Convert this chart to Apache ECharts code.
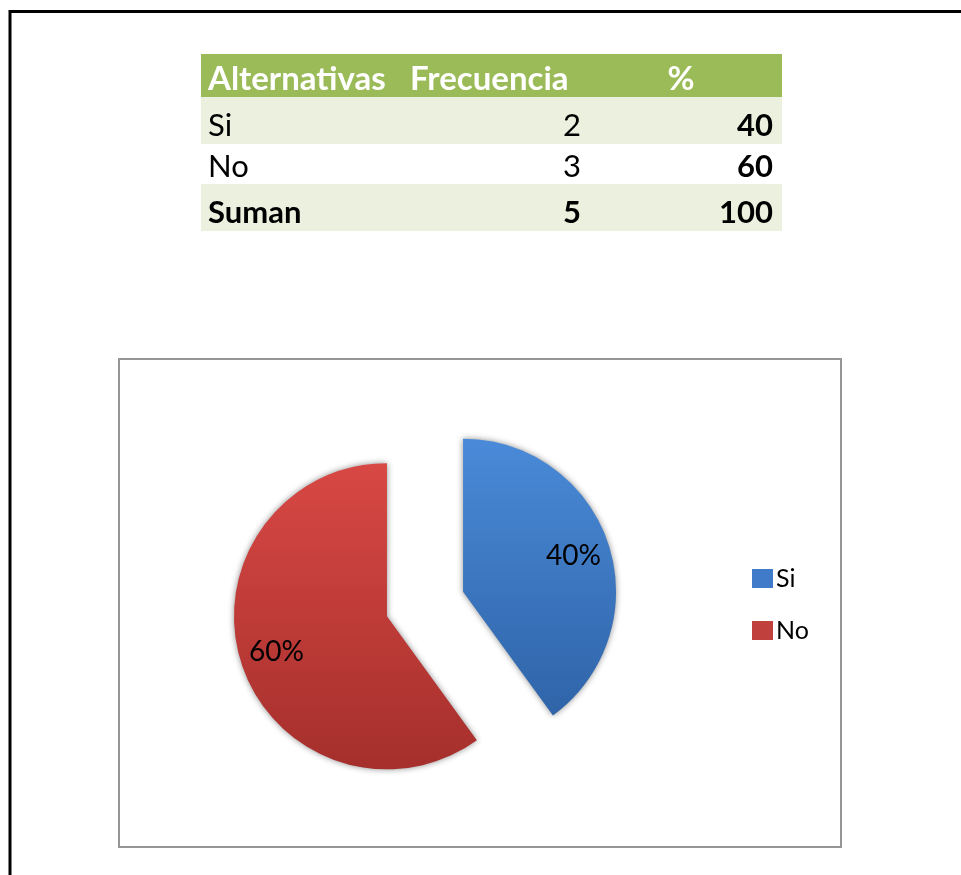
<!DOCTYPE html>
<html>
<head>
<meta charset="utf-8">
<script src="https://cdn.jsdelivr.net/npm/echarts@6/dist/echarts.min.js"></script>
<style>
html,body{margin:0;padding:0;background:#fff;}
#chart{width:961px;height:875px;}
</style>
</head>
<body>
<div id="chart"></div>
<script>
// ---- data ----
const headers = ['Alternativas', 'Frecuencia', '%'];
const alternativas = ['Si', 'No'];
const frecuencia = [2, 3];
const porcentaje = [40, 60];
const totalLabel = 'Suman';
const totalFrecuencia = 5;
const totalPorcentaje = 100;

const FONT = 'Lato';
const chart = echarts.init(document.getElementById('chart'));

// colours
const sliceColors = [
  new echarts.graphic.LinearGradient(0, 0, 0, 1, [
    {offset: 0, color: '#4a8ad8'}, {offset: 1, color: '#2f64a8'}]),
  new echarts.graphic.LinearGradient(0, 0, 0, 1, [
    {offset: 0, color: '#d84844'}, {offset: 1, color: '#a52f2c'}])
];
const legendColors = ['#3f7bc8', '#c0403d'];

// ---- table graphic ----
const tblLeft = 201, tblRight = 782;
const rowTops = [54, 97, 144, 184, 231];
const rowFills = ['#9BBB59', '#EBF1DE', '#FFFFFF', '#EBF1DE'];
const baselines = [89, 134, 175, 221];
const colTextX = {alt: 208, frec: 581, pct: 773};

const g = [];
// outer frame
g.push({type: 'rect', shape: {x: 10, y: 11.5, width: 1100, height: 1100},
  style: {fill: 'none', stroke: '#000', lineWidth: 3}, silent: true});
// rows
for (let i = 0; i < 4; i++) {
  g.push({type: 'rect', shape: {x: tblLeft, y: rowTops[i], width: tblRight - tblLeft, height: rowTops[i + 1] - rowTops[i]},
    style: {fill: rowFills[i]}, silent: true});
}
function txt(s, x, baseline, size, bold, align, color) {
  g.push({type: 'text', x: x, y: baseline,
    style: {text: String(s), font: (bold ? 'bold ' : '') + size + 'px ' + FONT,
      fill: color || '#000', align: align, verticalAlign: 'bottom'},
    silent: true, z: 10});
}
// header
txt(headers[0], 208, baselines[0] + 7, 33, true, 'left', '#fff');
txt(headers[1], 410, baselines[0] + 7, 33, true, 'left', '#fff');
txt(headers[2], 681, baselines[0] + 7, 33, true, 'center', '#fff');
// data rows
for (let i = 0; i < alternativas.length; i++) {
  txt(alternativas[i], colTextX.alt, baselines[i + 1] + 7, 31, false, 'left');
  txt(frecuencia[i], colTextX.frec, baselines[i + 1] + 7, 31, false, 'right');
  txt(porcentaje[i], colTextX.pct, baselines[i + 1] + 7, 31, true, 'right');
}
txt(totalLabel, colTextX.alt, baselines[3] + 7, 31, true, 'left');
txt(totalFrecuencia, colTextX.frec, baselines[3] + 7, 31, true, 'right');
txt(totalPorcentaje, colTextX.pct, baselines[3] + 7, 31, true, 'right');
// chart area box
g.push({type: 'rect', shape: {x: 119, y: 359, width: 722, height: 488},
  style: {fill: 'none', stroke: '#959595', lineWidth: 2}, silent: true});

const pieData = alternativas.map((n, i) => ({
  name: n, value: frecuencia[i], selected: true,
  itemStyle: {color: sliceColors[i]}
}));
const labelData = alternativas.map((n, i) => ({
  name: n, value: frecuencia[i], selected: true
}));

const R = 153;
const CENTER = [425, 604];
const option = {
  animation: false,
  graphic: g,
  legend: {
    orient: 'vertical', left: 747, top: 561,
    itemWidth: 21, itemHeight: 19, itemGap: 27,
    icon: 'rect',
    textStyle: {fontFamily: FONT, fontSize: 25, color: '#000', padding: [0, 0, 0, -2]},
    data: alternativas.map((n, i) => ({name: n, itemStyle: {color: legendColors[i]}})),
    selectedMode: false
  },
  series: [
    {
      type: 'pie', name: 'main', center: CENTER, radius: [0, R],
      startAngle: 90, clockwise: true,
      selectedMode: 'multiple', selectedOffset: 40,
      label: {show: false}, labelLine: {show: false},
      emphasis: {disabled: true},
      itemStyle: {shadowBlur: 6, shadowColor: 'rgba(0,0,0,0.45)'},
      data: pieData, z: 2
    },
    {
      type: 'pie', name: 'labels', center: CENTER, radius: [R * 0.48, R],
      startAngle: 90, clockwise: true,
      selectedMode: 'multiple', selectedOffset: 40,
      silent: true, legendHoverLink: false,
      itemStyle: {color: 'rgba(0,0,0,0)'},
      label: {show: true, position: 'inside', formatter: '{d}%',
        fontFamily: FONT, fontSize: 28, color: '#000'},
      labelLine: {show: false},
      emphasis: {disabled: true},
      data: labelData, z: 3
    }
  ]
};
chart.setOption(option);
</script>
</body>
</html>
